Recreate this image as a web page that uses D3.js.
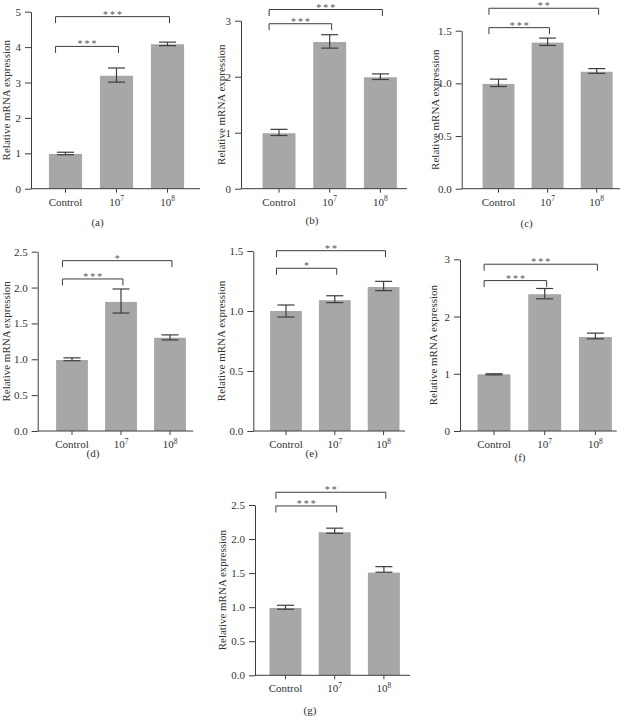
<!DOCTYPE html>
<html>
<head>
<meta charset="utf-8">
<script src="https://cdn.jsdelivr.net/npm/d3@7"></script>
<style>
  html, body { margin: 0; padding: 0; background: #fff; }
  svg { display: block; font-family: "Liberation Serif", "Times New Roman", Times, "DejaVu Serif", serif; }
  svg text { font-family: "Liberation Serif", "Times New Roman", Times, "DejaVu Serif", serif !important; fill: #333; }
</style>
</head>
<body>
<svg id="chart" width="629" height="716"></svg>
<script>
// ---------- DATA ----------
const categories = ["Control", "10^7", "10^8"];

const meanA = [0.98, 3.19, 4.08], hiA = [1.03, 3.41, 4.14], loA = [0.96, 3.01, 4.04];
const meanB = [0.99, 2.62, 1.99], hiB = [1.06, 2.75, 2.05], loB = [0.95, 2.51, 1.95];
const meanC = [0.995, 1.387, 1.11], hiC = [1.04, 1.43, 1.14], loC = [0.97, 1.36, 1.095];
const meanD = [0.99, 1.80, 1.30], hiD = [1.02, 1.98, 1.34], loD = [0.98, 1.645, 1.27];
const meanE = [1.0, 1.09, 1.20], hiE = [1.05, 1.127, 1.247], loE = [0.95, 1.07, 1.17];
const meanF = [0.99, 2.39, 1.643], hiF = [1.0, 2.49, 1.71], loF = [0.98, 2.31, 1.61];
const meanG = [0.988, 2.10, 1.507], hiG = [1.028, 2.16, 1.595], loG = [0.97, 2.085, 1.513];

const ticksInt5 = [0, 1, 2, 3, 4, 5];
const ticksInt3 = [0, 1, 2, 3];
const ticks15 = [0, 0.5, 1.0, 1.5];
const ticks25 = [0, 0.5, 1.0, 1.5, 2.0, 2.5];

// significance: [label, fromIndex, toIndex, level]
const sigA = [["***", 0, 1, 4.02], ["***", 0, 2, 4.86]];
const sigB = [["***", 0, 1, 2.946], ["***", 0, 2, 3.20]];
const sigC = [["***", 0, 1, 1.529], ["**", 0, 2, 1.713]];
const sigD = [["***", 0, 1, 2.12], ["*", 0, 2, 2.375]];
const sigE = [["*", 0, 1, 1.356], ["**", 0, 2, 1.5025]];
const sigF = [["***", 0, 1, 2.628], ["***", 0, 2, 2.914]];
const sigG = [["***", 0, 1, 2.486], ["**", 0, 2, 2.687]];

const yLabel = "Relative mRNA expression";
const panelLetters = ["(a)", "(b)", "(c)", "(d)", "(e)", "(f)", "(g)"];

// ---------- LAYOUT ----------
const panels = [
  {mean: meanA, hi: hiA, lo: loA, sig: sigA, ticks: ticksInt5, fmt: d3.format("d"), yMax: 5,
   axisX: 31, xEnd: 200, c0: 65.5, step: 51, yTop: 11.7, yBot: 188.7, labX: 6, letX: 97.5, letY: 225.5},
  {mean: meanB, hi: hiB, lo: loB, sig: sigB, ticks: ticksInt3, fmt: d3.format("d"), yMax: 3,
   axisX: 241, xEnd: 407, c0: 279, step: 50.7, yTop: 20.7, yBot: 188.7, labX: 220.5, letX: 312, letY: 224},
  {mean: meanC, hi: hiC, lo: loC, sig: sigC, ticks: ticks15, fmt: d3.format(".1f"), yMax: 1.5,
   axisX: 461.7, xEnd: 620, c0: 498.5, step: 49.1, yTop: 30.7, yBot: 188.7, labX: 435, letX: 526.7, letY: 226.5},
  {mean: meanD, hi: hiD, lo: loD, sig: sigD, ticks: ticks25, fmt: d3.format(".1f"), yMax: 2.5,
   axisX: 37.7, xEnd: 193.3, c0: 72, step: 49, yTop: 251.7, yBot: 431, labX: 6.3, letX: 93, letY: 457},
  {mean: meanE, hi: hiE, lo: loE, sig: sigE, ticks: ticks15, fmt: d3.format(".1f"), yMax: 1.5,
   axisX: 253.3, xEnd: 405, c0: 286, step: 48.8, yTop: 251, yBot: 431, labX: 221, letX: 311.7, letY: 457},
  {mean: meanF, hi: hiF, lo: loF, sig: sigF, ticks: ticksInt3, fmt: d3.format("d"), yMax: 3,
   axisX: 460, xEnd: 616.7, c0: 494, step: 50.7, yTop: 259.3, yBot: 431, labX: 433, letX: 520, letY: 460.5},
  {mean: meanG, hi: hiG, lo: loG, sig: sigG, ticks: ticks25, fmt: d3.format(".1f"), yMax: 2.5,
   axisX: 255, xEnd: 410, c0: 285.5, step: 49.2, yTop: 505, yBot: 675.3, labX: 221.7, letX: 310, letY: 713.5}
];

const FONT = "'Liberation Serif', 'Times New Roman', Times, 'DejaVu Serif', serif";
const svg = d3.select("#chart");
const ink = "#3d3d3d";
const barFill = "#a7a7a9";

panels.forEach((p, pi) => {
  const g = svg.append("g");
  const r0 = p.c0 - 0.675 * p.step;
  const x = d3.scaleBand().domain(categories).range([r0, r0 + 3.35 * p.step])
    .paddingInner(0.35).paddingOuter(0.35);
  const y = d3.scaleLinear().domain([0, p.yMax]).range([p.yBot, p.yTop]);
  const cx = c => x(c) + x.bandwidth() / 2;

  // bars
  g.selectAll("rect.bar").data(categories).join("rect")
    .attr("x", c => x(c)).attr("width", x.bandwidth())
    .attr("y", (c, i) => y(p.mean[i]))
    .attr("height", (c, i) => y(0) - y(p.mean[i]))
    .attr("fill", barFill);

  // error bars
  const capHalf = 8.5;
  categories.forEach((c, i) => {
    const xc = cx(c);
    g.append("line").attr("x1", xc).attr("x2", xc)
      .attr("y1", y(p.lo[i])).attr("y2", y(p.hi[i]))
      .attr("stroke", ink).attr("stroke-width", 1.2);
    [p.lo[i], p.hi[i]].forEach(v => {
      g.append("line").attr("x1", xc - capHalf).attr("x2", xc + capHalf)
        .attr("y1", y(v)).attr("y2", y(v))
        .attr("stroke", ink).attr("stroke-width", 1.2);
    });
  });

  // y axis
  const yAx = d3.axisLeft(y).tickValues(p.ticks).tickFormat(p.fmt).tickSize(6).tickPadding(4).tickSizeOuter(0);
  const ya = g.append("g").attr("transform", `translate(${p.axisX},0)`).call(yAx)
    .attr("font-family", FONT);
  ya.select(".domain").attr("stroke", ink);
  ya.selectAll(".tick line").attr("stroke", ink);
  ya.selectAll(".tick text").attr("font-size", 11).attr("fill", "#333")
    .style("font-family", FONT);

  // x axis
  const xAx = d3.axisBottom(x).tickSize(4).tickPadding(5).tickFormat("");
  const xa = g.append("g").attr("transform", `translate(0,${p.yBot})`).call(xAx);
  xa.select(".domain").remove();
  xa.selectAll(".tick line").attr("stroke", ink);
  g.append("line").attr("x1", p.axisX).attr("x2", p.xEnd)
    .attr("y1", p.yBot).attr("y2", p.yBot).attr("stroke", ink).attr("stroke-width", 1);

  // x tick labels with superscripts
  categories.forEach(c => {
    const t = g.append("text").attr("x", cx(c)).attr("y", p.yBot + 17)
      .attr("text-anchor", "middle").attr("font-size", 11).style("font-family", FONT);
    if (c.includes("^")) {
      const [base, exp] = c.split("^");
      t.append("tspan").text(base);
      t.append("tspan").attr("dy", -4.5).attr("font-size", 7.5).text(exp);
    } else {
      t.text(c);
    }
  });

  // y label
  g.append("text")
    .attr("transform", `translate(${p.labX},${(p.yTop + p.yBot) / 2}) rotate(-90)`)
    .attr("text-anchor", "middle").attr("dominant-baseline", "central")
    .attr("font-size", 11).style("font-family", FONT).text(yLabel);

  // significance brackets
  p.sig.forEach(([lab, a, b, lvl]) => {
    const xl = cx(categories[a]) - 0.3 * x.bandwidth();
    const xr = cx(categories[b]) + 0.06 * x.bandwidth();
    const yl = y(lvl);
    g.append("path")
      .attr("d", `M${xl},${yl + 6.5}V${yl}H${xr}V${yl + 6.5}`)
      .attr("fill", "none").attr("stroke", ink).attr("stroke-width", 1);
    g.append("text").attr("x", (xl + xr) / 2 + 1).attr("y", yl + 1)
      .attr("text-anchor", "middle").attr("font-size", 10).style("font-family", FONT)
      .attr("letter-spacing", 2).style("fill", "#555").text(lab);
  });

  // panel letter
  g.append("text").attr("x", p.letX).attr("y", p.letY)
    .attr("text-anchor", "middle").attr("font-size", 11).style("font-family", FONT)
    .text(panelLetters[pi]);
});
</script>
</body>
</html>
